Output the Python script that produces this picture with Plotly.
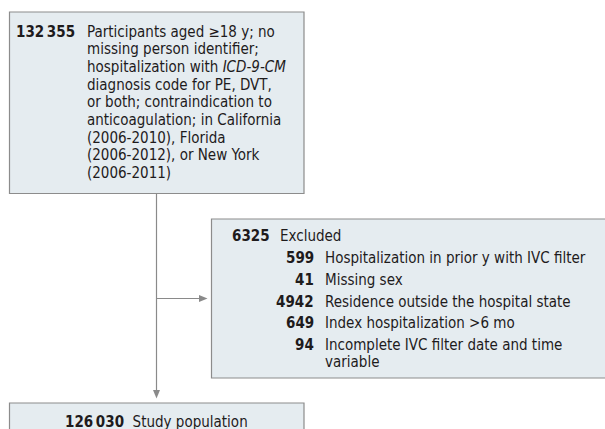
import plotly.graph_objects as go

W, H = 605, 429
FONT = "DejaVu Sans Condensed, Liberation Sans Narrow, Arial Narrow, sans-serif"
FILL = "#e5ecf0"
EDGE = "#8c8c8c"
LINE = "#8a8a8a"
TXT = "#1e1b1c"

# --- data (flow chart content) ---
top_count = "132\u2009355"
top_lines = [
    "Participants aged ≥18 y; no",
    "missing person identifier;",
    "hospitalization with <i>ICD-9-CM</i>",
    "diagnosis code for PE, DVT,",
    "or both; contraindication to",
    "anticoagulation; in California",
    "(2006-2010), Florida",
    "(2006-2012), or New York",
    "(2006-2011)",
]
excl_count = "6325"
excl_label = "Excluded"
excl_counts = ["599", "41", "4942", "649", "94"]
excl_reasons = [
    ["Hospitalization in prior y with IVC filter"],
    ["Missing sex"],
    ["Residence outside the hospital state"],
    ["Index hospitalization >6 mo"],
    ["Incomplete IVC filter date and time", "variable"],
]
final_count = "126\u2009030"
final_label = "Study population"

# --- layout geometry ---
box1 = (9.5, 12, 304, 193.5)
box2 = (211.5, 219, 700, 378)
box3 = (9.5, 403, 304, 460)
xc = 156.5

shapes = []
for (x0, y0, x1, y1) in (box1, box2, box3):
    shapes.append(dict(type="rect", x0=x0, y0=y0, x1=x1, y1=y1,
                       xref="x", yref="y", fillcolor=FILL,
                       line=dict(color=EDGE, width=1.2), layer="below"))
# vertical connector
shapes.append(dict(type="line", x0=xc, y0=box1[3], x1=xc, y1=391,
                   xref="x", yref="y", line=dict(color=LINE, width=1.2)))
shapes.append(dict(type="path", path=f"M {xc-3.5} 390 L {xc+3.5} 390 L {xc} 398.5 Z",
                   xref="x", yref="y", fillcolor=LINE, line=dict(width=0)))
# horizontal connector
yh = 298.5
shapes.append(dict(type="line", x0=xc, y0=yh, x1=200, y1=yh,
                   xref="x", yref="y", line=dict(color=LINE, width=1.2)))
shapes.append(dict(type="path", path=f"M 199 {yh-3.5} L 199 {yh+3.5} L 207.5 {yh} Z",
                   xref="x", yref="y", fillcolor=LINE, line=dict(width=0)))

ann = []
FS = 15

def txt(x, y, s, anchor="left", bold=False, size=FS):
    ann.append(dict(x=x, y=y, xref="x", yref="y", text=f"<b>{s}</b>" if bold else s,
                    showarrow=False, xanchor=anchor, yanchor="middle",
                    font=dict(family=FONT, size=size, color=TXT)))

# box 1
y0, step = 31.5, 17.7
txt(77, y0, top_count, "right", True)
for i, s in enumerate(top_lines):
    txt(84.5, y0 + i * step, s)

# box 2
txt(271.5, 236, excl_count, "right", True)
txt(277.5, 236, excl_label)
yy = 258.3
for c, reasons in zip(excl_counts, excl_reasons):
    txt(316, yy, c, "right", True)
    for j, r in enumerate(reasons):
        txt(322.5, yy + j * step, r)
    yy += 21.6

# box 3
ann.append(dict(x=xc, y=421.5, xref="x", yref="y",
                text=f"<b>{final_count}</b>  {final_label}", showarrow=False,
                xanchor="center", yanchor="middle",
                font=dict(family=FONT, size=FS, color=TXT)))

fig = go.Figure()
fig.update_layout(
    width=W, height=H, margin=dict(l=0, r=0, t=0, b=0),
    paper_bgcolor="white", plot_bgcolor="white",
    xaxis=dict(range=[0, W], visible=False, fixedrange=True),
    yaxis=dict(range=[H, 0], visible=False, fixedrange=True),
    shapes=shapes, annotations=ann, showlegend=False,
)
fig.write_html("out.html", config={"displayModeBar": False},
               post_script="document.body.style.margin='0';document.body.style.overflow='hidden';")
